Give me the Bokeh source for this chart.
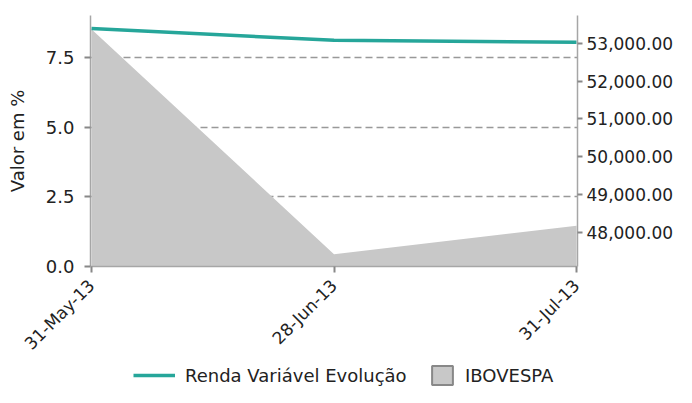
import math
from bokeh.plotting import figure
from bokeh.layouts import column
from bokeh.models import (Range1d, LinearAxis, FixedTicker, NumeralTickFormatter,
                          ColumnDataSource, Legend, LegendItem)
from bokeh.embed import file_html
from bokeh.resources import INLINE

# ---- data ----
dates = ["31-May-13", "28-Jun-13", "31-Jul-13"]
renda_variavel = [8.53, 8.11, 8.04]          # % (left axis)
ibovespa = [53360, 47440, 48190]             # points (right axis)
left_ticks = [0.0, 2.5, 5.0, 7.5]
right_ticks = [48000, 49000, 50000, 51000, 52000, 53000]

FONT = "DejaVu Sans"
TXT = "#222222"
AX = "#a6a6a6"
TICK = "#888888"
TEAL = "#26a69a"
AREA = "#c8c8c8"
NAN = float("nan")

idx = list(range(len(dates)))
src = ColumnDataSource(dict(x=idx, renda=renda_variavel, ibov=ibovespa,
                            base=[47115] * len(idx)))

W, H_LEG, H_TOT = 676, 24, 387
p = figure(width=W, height=H_TOT - H_LEG, output_backend="svg", toolbar_location=None,
           x_range=Range1d(-0.004, 2.004), y_range=Range1d(0, 9),
           min_border_left=90, min_border_top=15, min_border_bottom=96,
           min_border_right=0)
p.outline_line_color = None
p.background_fill_color = "white"
p.extra_y_ranges = {"ibov": Range1d(47115, 53725)}

# area (right axis)
area = p.varea(x="x", y1="base", y2="ibov", source=src, y_range_name="ibov",
               fill_color=AREA, fill_alpha=1.0)
# line (left axis)
line = p.line(x="x", y="renda", source=src, line_color=TEAL, line_width=3.5)

# grid
p.xgrid.visible = False
p.ygrid.ticker = FixedTicker(ticks=left_ticks)
p.ygrid.grid_line_color = "#999999"
p.ygrid.grid_line_dash = "7 4"
p.ygrid.grid_line_width = 1.3

# left axis
ya = p.yaxis[0]
ya.ticker = FixedTicker(ticks=left_ticks)
ya.formatter = NumeralTickFormatter(format="0.0")
ya.axis_label = "Valor em %"
ya.axis_label_text_font = FONT
ya.axis_label_text_font_size = "18px"
ya.axis_label_text_font_style = "normal"
ya.axis_label_text_color = TXT
ya.axis_label_standoff = 15

# right axis
ra = LinearAxis(y_range_name="ibov", ticker=FixedTicker(ticks=right_ticks),
                formatter=NumeralTickFormatter(format="0,0.00"))
p.add_layout(ra, "right")

# bottom axis
xa = p.xaxis[0]
xa.ticker = FixedTicker(ticks=idx)
xa.major_label_overrides = {i: d for i, d in zip(idx, dates)}
xa.major_label_orientation = math.pi / 4

for ax in (ya, ra, xa):
    ax.axis_line_color = AX
    ax.axis_line_width = 1.5
    ax.major_tick_line_color = TICK
    ax.major_tick_line_width = 2
    ax.major_tick_out = 6
    ax.major_tick_in = 0
    ax.minor_tick_line_color = None
    ax.major_label_text_font = FONT
    ax.major_label_text_color = TXT
ya.major_label_text_font_size = "18px"
ra.major_label_text_font_size = "17px"
xa.major_label_text_font_size = "17px"
ya.major_label_standoff = 10
ra.major_tick_out = 5
ra.major_label_standoff = 4
xa.major_label_standoff = 10

# ---- legend strip below the chart (its frame is aligned with the chart frame) ----
pl = figure(width=W, height=H_LEG, output_backend="svg", toolbar_location=None,
            x_range=Range1d(0, 1), y_range=Range1d(0, 1),
            x_axis_type=None, y_axis_type=None, min_border=0)
pl.outline_line_color = None
pl.xgrid.visible = False
pl.ygrid.visible = False
# legend proxies (no visible data)
leg_line = pl.line(x=[NAN], y=[NAN], line_color=TEAL, line_width=3.5)
leg_area = pl.quad(left=[NAN], right=[NAN], top=[NAN], bottom=[NAN],
                   fill_color=AREA, line_color="#888888", line_width=2)

def make_legend(label, renderer, gw, gh, loc):
    return Legend(items=[LegendItem(label=label, renderers=[renderer])],
                  location=loc, orientation="horizontal",
                  glyph_width=gw, glyph_height=gh, label_standoff=10,
                  padding=0, margin=0, spacing=0,
                  border_line_color=None, background_fill_alpha=0,
                  label_text_font=FONT, label_text_font_size="18px",
                  label_text_color=TXT)

pl.add_layout(make_legend("Renda Variável Evolução", leg_line, 42, 22, (43, 1)), "center")
pl.add_layout(make_legend("IBOVESPA", leg_area, 26, 24, (339, 0)), "center")

open("out.html", "w").write(file_html(column(p, pl, spacing=0), INLINE))
